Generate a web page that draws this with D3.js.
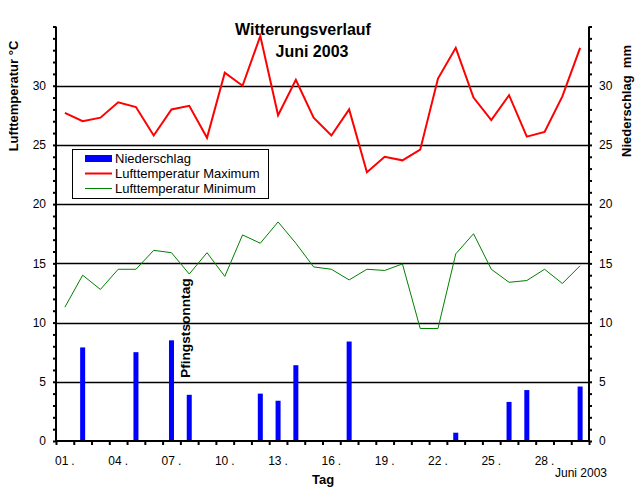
<!DOCTYPE html>
<html>
<head>
<meta charset="utf-8">
<script src="https://cdn.jsdelivr.net/npm/d3@7"></script>
<style>
  html, body { margin: 0; padding: 0; background: #fff; }
  svg { display: block; }
  text { font-family: "Liberation Sans", Arial, sans-serif; fill: #000; }
</style>
</head>
<body>
<svg id="chart" width="640" height="493"></svg>
<script>
// ---- data ----
const days = d3.range(1, 31);
const tempMax = [27.7, 27.0, 27.3, 28.6, 28.2, 25.8, 28.0, 28.3, 25.6, 31.1,
                 30.0, 34.2, 27.5, 30.5, 27.3, 25.8, 28.0, 22.7, 24.0, 23.7,
                 24.6, 30.6, 33.2, 29.0, 27.1, 29.2, 25.7, 26.1, 29.1, 33.2];
const tempMin = [11.3, 14.0, 12.8, 14.5, 14.5, 16.1, 15.9, 14.1, 15.9, 13.9,
                 17.4, 16.7, 18.5, 16.7, 14.7, 14.5, 13.6, 14.5, 14.4, 14.95,
                 9.5, 9.5, 15.8, 17.5, 14.5, 13.4, 13.55, 14.5, 13.3, 14.8];
const precipDays = [2, 5, 7, 8, 12, 13, 14, 17, 23, 26, 27, 30];
const precipVals = [7.9, 7.5, 8.5, 3.9, 4.0, 3.4, 6.4, 8.4, 0.7, 3.3, 4.3, 4.6];
const xLabelDays = [1, 4, 7, 10, 13, 16, 19, 22, 25, 28];
const yTicksMajor = [0, 5, 10, 15, 20, 25, 30];
const legendLabels = ["Niederschlag", "Lufttemperatur Maximum", "Lufttemperatur Minimum"];
const holidayDay = 8;
const holidayLabel = "Pfingstsonntag";

// ---- layout ----
const svg = d3.select("#chart");
const x = d3.scaleLinear().domain([0.5, 30.5]).range([56, 589]);
const y = d3.scaleLinear().domain([0, 35]).range([441, 26.5]);
const yR = d3.scaleLinear().domain([0, 35]).range([441, 26.5]);

// gridlines
svg.append("g").selectAll("line").data(yTicksMajor.filter(d => d > 0)).join("line")
  .attr("x1", x(0.5)).attr("x2", x(30.5))
  .attr("y1", d => Math.round(y(d)) + 0.5).attr("y2", d => Math.round(y(d)) + 0.5)
  .attr("stroke", "#000").attr("stroke-width", 1.3);

// precipitation bars
svg.append("g").selectAll("rect").data(precipDays).join("rect")
  .attr("x", (d) => x(d) - 2.5)
  .attr("width", 5)
  .attr("y", (d, i) => yR(precipVals[i]))
  .attr("height", (d, i) => yR(0) - yR(precipVals[i]))
  .attr("fill", "#0000ff");

// lines
const lineGen = d3.line().x((d, i) => x(days[i])).y(d => y(d));
svg.append("path").datum(tempMax).attr("d", lineGen)
  .attr("fill", "none").attr("stroke", "#ff0000").attr("stroke-width", 2)
  .attr("stroke-linejoin", "miter");
svg.append("path").datum(tempMin).attr("d", lineGen)
  .attr("fill", "none").attr("stroke", "#008000").attr("stroke-width", 1);

// left axis
const leftAxis = d3.axisLeft(y)
  .tickValues(d3.range(0, 36))
  .tickSize(3).tickPadding(7)
  .tickFormat(d => (d % 5 === 0 && d < 35) ? d : "");
const gL = svg.append("g").attr("transform", `translate(${x(0.5)},0)`).call(leftAxis);
gL.select(".domain").remove();
gL.selectAll(".tick line").attr("stroke-width", 2);
gL.selectAll(".tick text").attr("font-size", 12).attr("font-family", "'Liberation Sans', Arial, sans-serif");

// right axis
const rightAxis = d3.axisRight(yR)
  .tickValues(d3.range(0, 36))
  .tickSize(3).tickPadding(7)
  .tickFormat(d => (d % 5 === 0 && d < 35) ? d : "");
const gR = svg.append("g").attr("transform", `translate(${x(30.5)},0)`).call(rightAxis);
gR.select(".domain").remove();
gR.selectAll(".tick line").attr("stroke-width", 2);
gR.selectAll(".tick text").attr("font-size", 12).attr("font-family", "'Liberation Sans', Arial, sans-serif");

// bottom axis ticks
const bottomAxis = d3.axisBottom(x)
  .tickValues(d3.range(0.5, 31, 1))
  .tickSize(4).tickFormat("");
const gB = svg.append("g").attr("transform", `translate(0,${y(0)})`).call(bottomAxis);
gB.select(".domain").remove();
gB.selectAll(".tick line").attr("stroke-width", 2);

// axis lines
svg.append("line").attr("x1", x(0.5)).attr("x2", x(0.5)).attr("y1", y(35)).attr("y2", y(0) + 1)
  .attr("stroke", "#000").attr("stroke-width", 2);
svg.append("line").attr("x1", x(30.5)).attr("x2", x(30.5)).attr("y1", y(35)).attr("y2", y(0) + 1)
  .attr("stroke", "#000").attr("stroke-width", 2);
svg.append("line").attr("x1", x(0.5) - 1).attr("x2", x(30.5) + 1).attr("y1", y(0)).attr("y2", y(0))
  .attr("stroke", "#000").attr("stroke-width", 2);

// x labels
const xl = svg.append("g").selectAll("text").data(xLabelDays).join("text")
  .attr("x", d => x(d - 0.5) - 1).attr("y", 465)
  .attr("font-size", 12);
xl.append("tspan").text(d => String(d).padStart(2, "0"));
xl.append("tspan").attr("dx", 3).text(".");

// titles
svg.append("text").attr("x", 303).attr("y", 35).attr("text-anchor", "middle")
  .attr("font-size", 16).attr("font-weight", "bold").text("Witterungsverlauf");
svg.append("text").attr("x", 312).attr("y", 57).attr("text-anchor", "middle")
  .attr("font-size", 16).attr("font-weight", "bold").text("Juni 2003");

svg.append("text").attr("transform", "translate(17.5,96) rotate(-90)")
  .attr("text-anchor", "middle").attr("font-size", 13).attr("font-weight", "bold")
  .text("Lufttemperatur °C");
svg.append("text").attr("transform", "translate(630.5,101) rotate(-90)")
  .attr("text-anchor", "middle").attr("font-size", 13).attr("font-weight", "bold")
  .style("white-space", "pre")
  .text("Niederschlag  mm");

svg.append("text").attr("x", 323).attr("y", 484).attr("text-anchor", "middle")
  .attr("font-size", 13).attr("font-weight", "bold").text("Tag");
svg.append("text").attr("x", 607).attr("y", 477).attr("text-anchor", "end")
  .attr("font-size", 12).text("Juni 2003");

// holiday label
svg.append("text").attr("transform", `translate(${x(holidayDay) + 0.3},378) rotate(-90)`)
  .attr("font-size", 13.7).attr("font-weight", "bold").text(holidayLabel);

// legend
const lg = svg.append("g");
lg.append("rect").attr("x", 72.5).attr("y", 149.5).attr("width", 196).attr("height", 49)
  .attr("fill", "#fff").attr("stroke", "#000").attr("stroke-width", 1);
lg.append("rect").attr("x", 85).attr("y", 155).attr("width", 27).attr("height", 7).attr("fill", "#0000ff");
lg.append("line").attr("x1", 85).attr("x2", 112).attr("y1", 173.5).attr("y2", 173.5)
  .attr("stroke", "#ff0000").attr("stroke-width", 2);
lg.append("line").attr("x1", 85).attr("x2", 112).attr("y1", 188.5).attr("y2", 188.5)
  .attr("stroke", "#008000").attr("stroke-width", 1);
lg.selectAll("text.lg").data(legendLabels).join("text").attr("class", "lg")
  .attr("x", 115).attr("y", (d, i) => 163 + i * 15)
  .attr("font-size", 13).text(d => d);
</script>
</body>
</html>
